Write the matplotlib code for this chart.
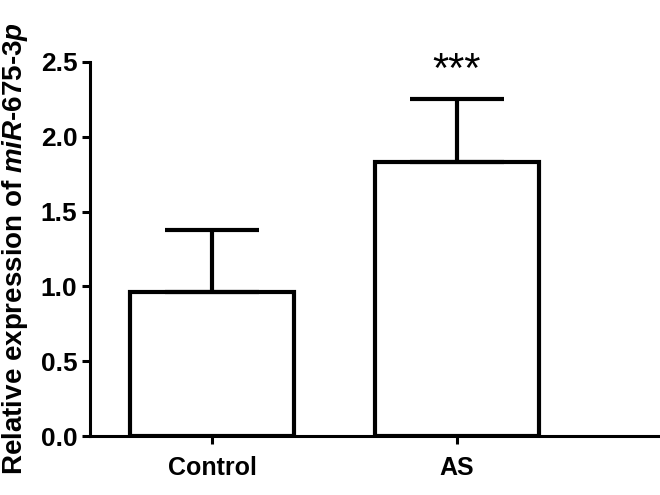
import matplotlib
matplotlib.use("Agg")
import matplotlib.pyplot as plt

groups = ["Control", "AS"]
means = [0.96, 1.83]
sd_upper = [0.42, 0.42]
sig_label = "***"
y_ticks = [0.0, 0.5, 1.0, 1.5, 2.0, 2.5]

plt.rcParams["font.family"] = ["Liberation Sans", "DejaVu Sans"]
plt.rcParams["font.weight"] = "bold"
plt.rcParams["mathtext.fontset"] = "custom"
plt.rcParams["mathtext.it"] = "Liberation Sans:italic:bold"
plt.rcParams["mathtext.rm"] = "Liberation Sans:bold"

fig = plt.figure(figsize=(6.6, 4.95), dpi=100)
ax = fig.add_axes([0.136, 0.119, 0.864, 0.756])

x = list(range(len(groups)))
ax.bar(x, means, width=0.67, color="white", edgecolor="black", linewidth=3, zorder=2)
ax.errorbar(x, means, yerr=[[0] * len(means), sd_upper], fmt="none", ecolor="black",
            elinewidth=3, capsize=34, capthick=3, zorder=3)

ax.text(x[1], 2.44, sig_label, ha="center", va="center", fontsize=30,
        fontweight="normal", clip_on=False)

ax.set_xlim(-0.5, 1.83)
ax.set_ylim(0, 2.5)
ax.set_xticks(x)
ax.set_xticklabels(groups, fontsize=18, fontweight="bold")
ax.set_yticks(y_ticks)
ax.set_yticklabels([f"{t:.1f}" for t in y_ticks], fontsize=19, fontweight="bold")

for side in ["top", "right"]:
    ax.spines[side].set_visible(False)
for side in ["left", "bottom"]:
    ax.spines[side].set_linewidth(2.2)
ax.tick_params(axis="both", width=2.2, length=6, direction="out", pad=3)
ax.tick_params(axis="x", pad=8)

# label is slightly smaller than the source so it stays inside the canvas
ax.set_ylabel(r"Relative expression of $\mathit{miR}$-$\mathit{675}$-$\mathit{3p}$",
              fontsize=20, fontweight="bold")
ax.yaxis.set_label_coords(-0.104, 0.5)

fig.savefig("out.png", dpi=100)
